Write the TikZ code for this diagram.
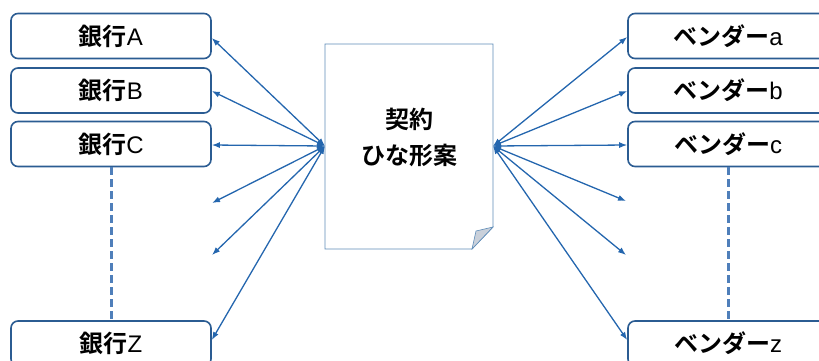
\documentclass[tikz,border=0pt]{standalone}
\usepackage{fontspec}
\setmainfont{Noto Sans CJK JP}[BoldFont={Noto Sans CJK JP Bold}]
\newfontfamily\latinf{Liberation Sans}
\usetikzlibrary{arrows.meta}
\definecolor{boxblue}{HTML}{2B5C92}
\definecolor{arrblue}{HTML}{2466AE}
\definecolor{dashblue}{HTML}{4F7FBA}
\definecolor{docline}{HTML}{5E8CB8}
\definecolor{foldgray}{HTML}{C9D0DA}
\begin{document}
\begin{tikzpicture}[x=1pt,y=-1pt,
  entbox/.style={draw=boxblue,line width=1.6pt,rounded corners=7pt,fill=white,minimum width=200pt,minimum height=45pt,inner sep=0pt,font=\fontsize{24}{27}\selectfont\bfseries},
  link/.style={draw=arrblue,line width=1.3pt,{Latex[length=8pt,width=6pt]}-{Latex[length=8pt,width=6pt]}},
  dots/.style={draw=dashblue,line width=3pt,dash pattern=on 8pt off 4pt}]
\useasboundingbox (0,0) rectangle (819,360);
\begin{scope}
\clip (0,0) rectangle (819,360);
% document
\draw[docline,line width=0.8pt,fill=white] (325,44) -- (493,44) -- (493,227) -- (472,249) -- (325,249) -- cycle;
\draw[docline,line width=0.6pt,fill=foldgray] (493,227) -- (472,249) -- (476,231) -- cycle;
\node[font=\fontsize{24}{36}\selectfont\bfseries,align=center] (doc) at (409,137) {契約\\ひな形案};
\coordinate (L) at (325,146);
\coordinate (R) at (493,146);
% left boxes
\node[entbox] (bA) at (111,36) {銀行{\latinf\mdseries A}};
\node[entbox] (bB) at (111,90.5) {銀行{\latinf\mdseries B}};
\node[entbox] (bC) at (111,144) {銀行{\latinf\mdseries C}};
\node[entbox] (bZ) at (111,343.5) {銀行{\latinf\mdseries Z}};
% right boxes
\node[entbox] (vA) at (728,36) {ベンダー{\latinf\mdseries a}};
\node[entbox] (vB) at (728,90.5) {ベンダー{\latinf\mdseries b}};
\node[entbox] (vC) at (728,144) {ベンダー{\latinf\mdseries c}};
\node[entbox] (vZ) at (728,343.5) {ベンダー{\latinf\mdseries z}};
% dashed
\draw[dots] (bC.south) -- (bZ.north);
\draw[dots] (vC.south) -- (vZ.north);
% free ends
\coordinate (l1) at (212,203);
\coordinate (l2) at (212,255);
\coordinate (r1) at (626,201);
\coordinate (r2) at (626,255);
% links
\draw[link] (L) -- (bA.east|-0,38);
\draw[link] (L) -- (bB.east|-0,91);
\draw[link] (L) -- (bC.east|-0,145);
\draw[link] (L) -- (l1);
\draw[link] (L) -- (l2);
\draw[link] (L) -- (bZ.east|-0,340);
\draw[link] (R) -- (vA.west|-0,37);
\draw[link] (R) -- (vB.west|-0,91);
\draw[link] (R) -- (vC.west|-0,145);
\draw[link] (R) -- (r1);
\draw[link] (R) -- (r2);
\draw[link] (R) -- (vZ.west|-0,340);
\end{scope}
\end{tikzpicture}
\end{document}
